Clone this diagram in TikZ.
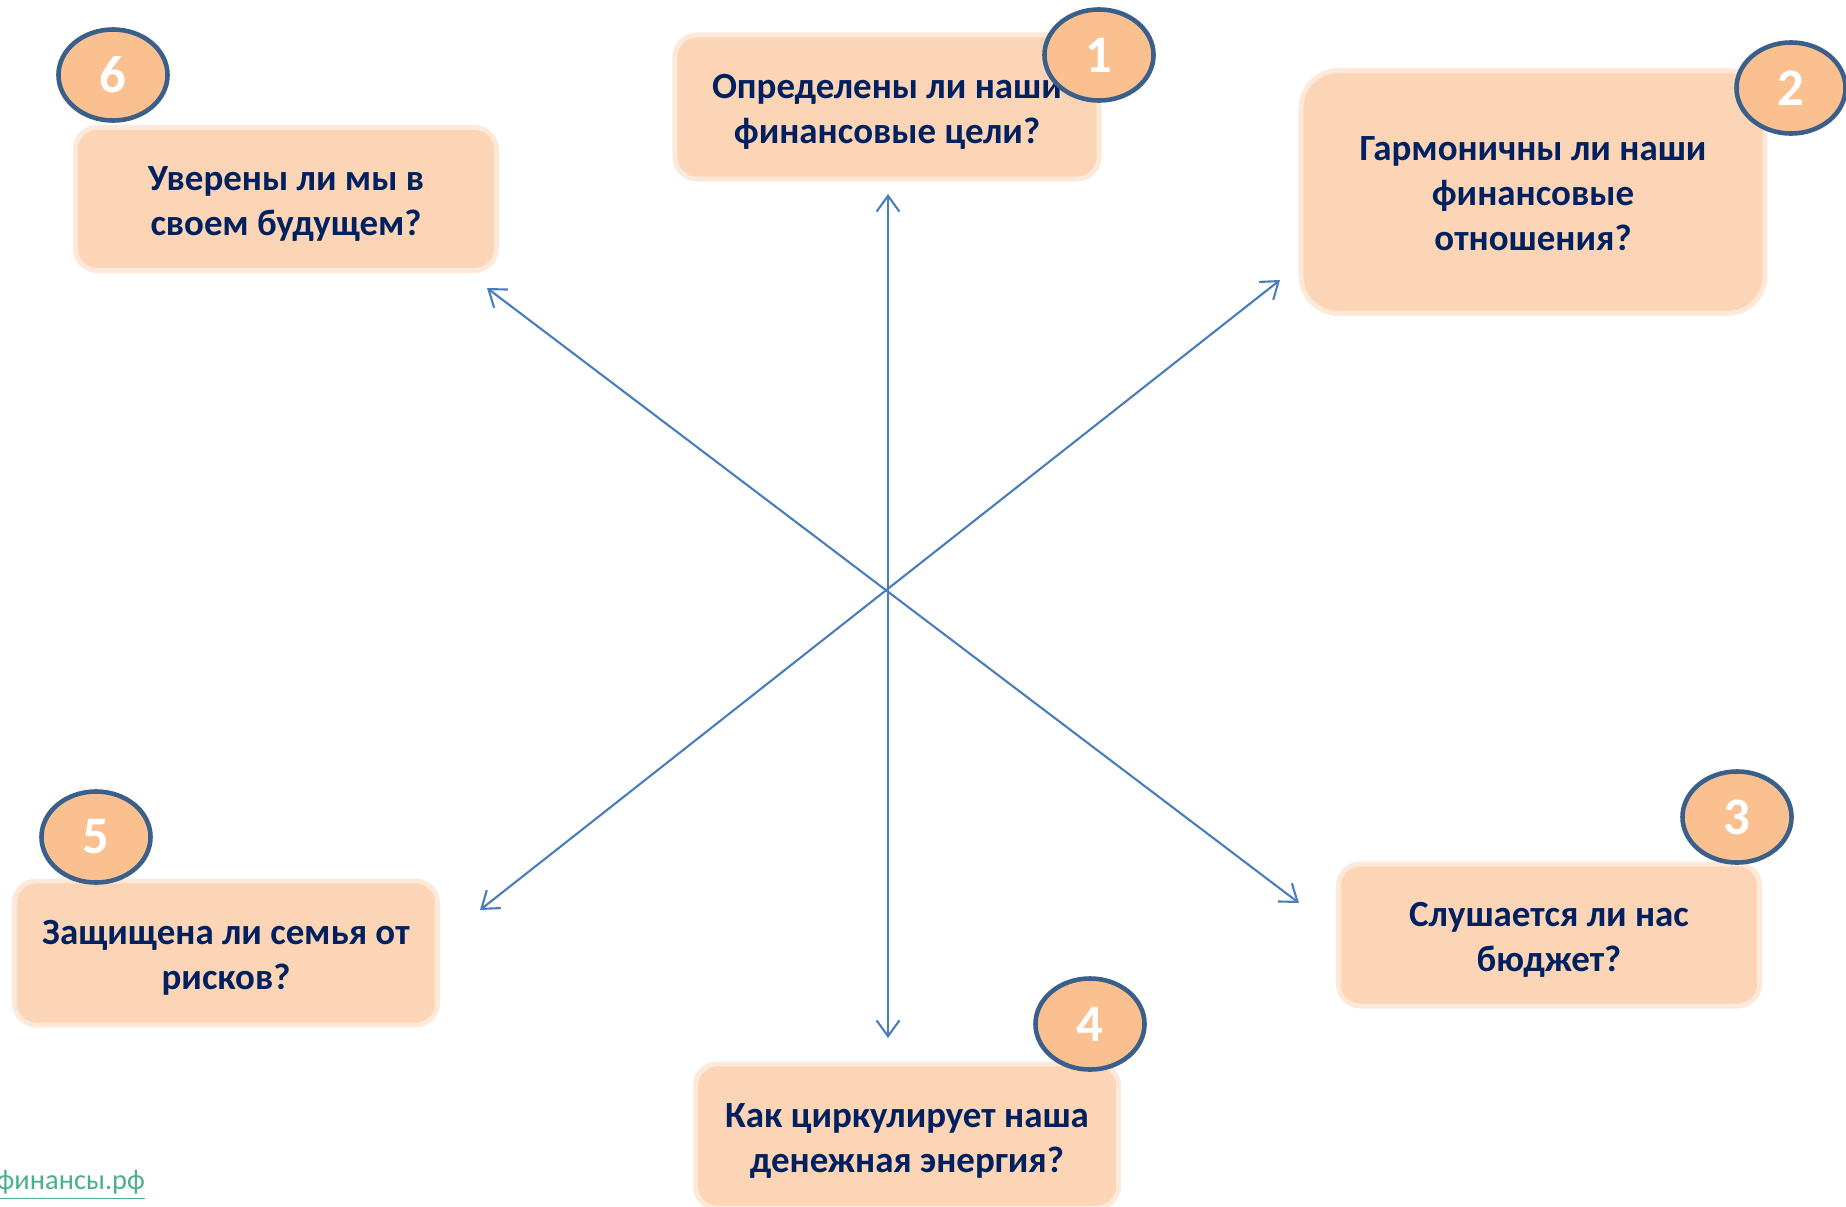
\documentclass[tikz,border=0pt]{standalone}
\usepackage{fontspec}
\setmainfont{Carlito}
\usetikzlibrary{shapes.geometric}
\usetikzlibrary{arrows.meta}
\definecolor{boxfill}{HTML}{FBD5B5}
\definecolor{boxrim}{HTML}{FDE9D9}
\definecolor{numfill}{HTML}{FAC090}
\definecolor{numrim}{HTML}{3A5F8B}
\definecolor{qtext}{HTML}{002060}
\definecolor{axisblue}{HTML}{4A7EBB}
\definecolor{linkgreen}{HTML}{4BAE8C}
\newcommand{\qlines}[1]{\raisebox{-1.4pt}[\height][\depth]{\begin{tabular}{@{}c@{}}#1\end{tabular}}}

\begin{document}
\begin{tikzpicture}[x=0.01cm,y=-0.01cm,
  qbox/.style={rectangle, draw=boxrim, line width=1.4pt, fill=boxfill, rounded corners=0.22cm,
    text=qtext, inner sep=0pt, font=\bfseries\fontsize{10.5}{12.8}\selectfont},
  numball/.style={ellipse, draw=numrim, line width=1.3pt, fill=numfill, inner sep=0pt,
    minimum width=1.09cm, minimum height=0.91cm, text=white, font=\bfseries\fontsize{15}{18}\selectfont},
  axisarrow/.style={draw=axisblue, line width=0.6pt,
    {Straight Barb[length=4.5pt,width=6.5pt]}-{Straight Barb[length=4.5pt,width=6.5pt]}}]
\useasboundingbox (0,0) rectangle (1846,1206);
\path (888,194) coordinate (tip_goals)
      (888,1038) coordinate (tip_flow)
      (487,288) coordinate (tip_future)
      (1299,903) coordinate (tip_budget)
      (1280,280) coordinate (tip_relations)
      (480,910) coordinate (tip_risks);
\draw[axisarrow] (tip_goals) -- (tip_flow);
\draw[axisarrow] (tip_future) -- (tip_budget);
\draw[axisarrow] (tip_relations) -- (tip_risks);
\node[qbox, minimum width=4.24cm, minimum height=1.44cm] (goals) at (887,107) {\qlines{Определены ли наши\\финансовые цели?}};
\node[qbox, minimum width=4.64cm, minimum height=2.43cm, rounded corners=0.38cm] (relations) at (1533,192) {\qlines{Гармоничны ли наши\\финансовые\\отношения?}};
\node[qbox, minimum width=4.21cm, minimum height=1.42cm] (budget) at (1549,935) {\qlines{Слушается ли нас\\бюджет?}};
\node[qbox, minimum width=4.23cm, minimum height=1.44cm] (flow) at (907,1136) {\qlines{Как циркулирует наша\\денежная энергия?}};
\node[qbox, minimum width=4.23cm, minimum height=1.44cm] (risks) at (226,953) {\qlines{Защищена ли семья от\\рисков?}};
\node[qbox, minimum width=4.21cm, minimum height=1.43cm] (future) at (286,199) {\qlines{Уверены ли мы в\\своем будущем?}};
\node[numball] (n1) at (1099,55) {1};
\node[numball] (n2) at (1791,88) {2};
\node[numball] (n3) at (1737,817) {3};
\node[numball] (n4) at (1090,1024) {4};
\node[numball] (n5) at (96,837) {5};
\node[numball] (n6) at (113,75) {6};
\node[anchor=base west, inner sep=0pt, text=linkgreen, font=\fontsize{8.1}{10}\selectfont] (site) at (-4,1189) {\underline{финансы.рф}};
\end{tikzpicture}
\end{document}
